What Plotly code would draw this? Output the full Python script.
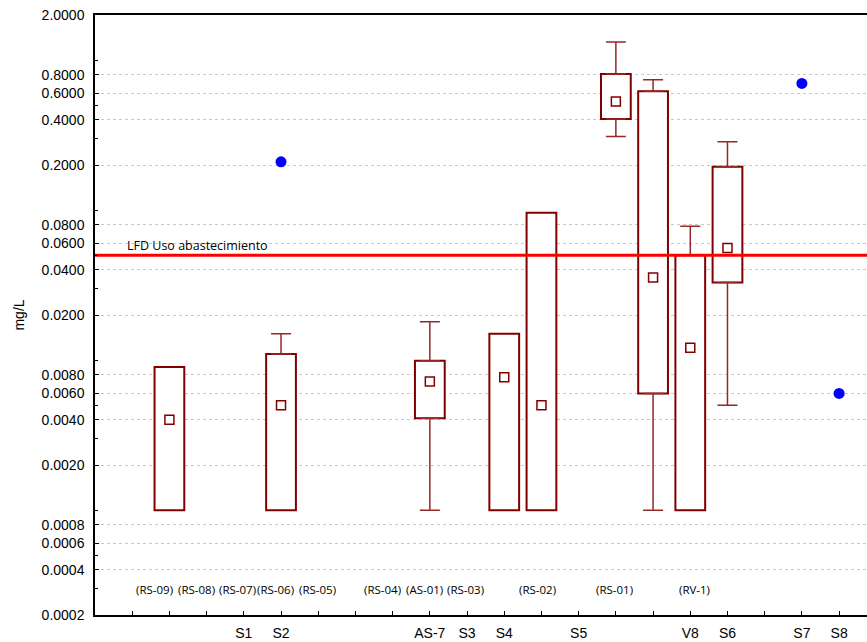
import plotly.graph_objects as go
import math

# ---- data ----
tick_positions = list(range(1, 21))
tick_names = {4: "S1", 5: "S2", 9: "AS-7", 10: "S3", 11: "S4", 13: "S5",
              16: "V8", 17: "S6", 19: "S7", 20: "S8"}

box_x = [2, 5, 9, 11, 12, 14, 15, 16, 17]
box_q1 = [0.001, 0.001, 0.0041, 0.001, 0.001, 0.405, 0.006, 0.001, 0.033]
box_q3 = [0.009, 0.011, 0.0099, 0.015, 0.096, 0.81, 0.62, 0.050, 0.195]
box_mean = [0.0040, 0.0050, 0.0072, 0.0077, 0.0050, 0.53, 0.0355, 0.0121, 0.056]
box_low = [None, None, 0.001, None, None, 0.31, 0.001, None, 0.005]
box_high = [None, 0.015, 0.018, None, None, 1.32, 0.74, 0.078, 0.286]

point_x = [5, 19, 20]
point_y = [0.21, 0.70, 0.006]

limit_value = 0.05
limit_label = "LFD Uso abastecimiento"

station_labels = ["(RS-09)", "(RS-08)", "(RS-07)", "(RS-06)", "(RS-05)",
                  "(RS-04)", "(AS-01)", "(RS-03)", "(RS-02)", "(RS-01)", "(RV-1)"]
station_label_x = [1.59, 2.72, 3.82, 4.84, 5.97, 7.73, 8.86, 9.96, 11.9, 13.97, 16.1]

y_ticks = [2.0, 0.8, 0.6, 0.4, 0.2, 0.08, 0.06, 0.04, 0.02, 0.008, 0.006, 0.004,
           0.002, 0.0008, 0.0006, 0.0004, 0.0002]
y_minor = [1.0, 0.5, 0.3, 0.1, 0.05, 0.03, 0.01, 0.005, 0.003, 0.001, 0.0005, 0.0003]

X_MAX = 20.75
DARK = "#800000"
WHISK = "rgb(150,40,40)"

fig = go.Figure()

# boxes
fig.add_trace(go.Bar(
    x=box_x, base=box_q1, y=[h - l for l, h in zip(box_q1, box_q3)],
    width=0.8, marker=dict(color="white", line=dict(color=DARK, width=2)),
    hoverinfo="skip", showlegend=False))

# upper whiskers
ux = [x for x, h in zip(box_x, box_high) if h is not None]
uy = [q for q, h in zip(box_q3, box_high) if h is not None]
ue = [h - q for q, h in zip(box_q3, box_high) if h is not None]
fig.add_trace(go.Scatter(
    x=ux, y=uy, mode="markers", marker=dict(size=1, color="rgba(0,0,0,0)"),
    error_y=dict(type="data", symmetric=False, array=ue, arrayminus=[0] * len(ue),
                 color=WHISK, thickness=1.5, width=10),
    hoverinfo="skip", showlegend=False))

# lower whiskers
lx = [x for x, l in zip(box_x, box_low) if l is not None]
ly = [q for q, l in zip(box_q1, box_low) if l is not None]
le = [q - l for q, l in zip(box_q1, box_low) if l is not None]
fig.add_trace(go.Scatter(
    x=lx, y=ly, mode="markers", marker=dict(size=1, color="rgba(0,0,0,0)"),
    error_y=dict(type="data", symmetric=False, array=[0] * len(le), arrayminus=le,
                 color=WHISK, thickness=1.5, width=10),
    hoverinfo="skip", showlegend=False))

# means
fig.add_trace(go.Scatter(
    x=box_x, y=box_mean, mode="markers",
    marker=dict(symbol="square-open", size=9, color=DARK, line=dict(width=1.5)),
    hoverinfo="skip", showlegend=False))

# single points
fig.add_trace(go.Scatter(
    x=point_x, y=point_y, mode="markers",
    marker=dict(symbol="circle", size=11, color="rgb(0,0,255)"),
    hoverinfo="skip", showlegend=False))

# limit line
fig.add_trace(go.Scatter(
    x=[0, X_MAX], y=[limit_value, limit_value], mode="lines",
    line=dict(color="rgb(255,0,0)", width=3),
    hoverinfo="skip", showlegend=False))

annotations = [dict(
    x=0.8, y=math.log10(limit_value), xref="x", yref="y", text=limit_label,
    showarrow=False, xanchor="left", yanchor="bottom", yshift=-1,
    font=dict(family="Open Sans", size=12.5, color="black"))]
for lab, lx_ in zip(station_labels, station_label_x):
    annotations.append(dict(
        x=lx_, y=math.log10(0.000294), xref="x", yref="y", text=lab,
        showarrow=False, xanchor="center", yanchor="middle",
        font=dict(family="Open Sans", size=11.5, color="black")))

fig.update_layout(
    width=867, height=642,
    margin=dict(l=95, r=0, t=15, b=27),
    paper_bgcolor="white", plot_bgcolor="white",
    font=dict(family="Liberation Sans, Arial", size=14, color="black"),
    annotations=annotations,
    barmode="overlay",
    xaxis=dict(
        range=[0, X_MAX], tickmode="array", tickvals=tick_positions,
        ticktext=[tick_names.get(t, "") for t in tick_positions],
        ticks="inside", ticklen=4, tickcolor="black",
        showline=True, linecolor="black", linewidth=1.5, mirror=True,
        showgrid=False, zeroline=False, ticklabelstandoff=4,
        tickfont=dict(size=14)),
    yaxis=dict(
        type="log", range=[math.log10(0.0002), math.log10(2.0)],
        tickmode="array", tickvals=y_ticks, ticktext=[f"{v:.4f}" for v in y_ticks],
        ticks="inside", ticklen=4, tickcolor="black",
        showline=True, linecolor="black", linewidth=1.5, mirror=False,
        showgrid=True, gridcolor="rgb(200,200,200)", griddash="dot", gridwidth=1,
        zeroline=False, ticklabelstandoff=6, tickfont=dict(size=14),
        minor=dict(tickmode="array", tickvals=y_minor, ticks="inside", ticklen=3,
                   tickcolor="black", showgrid=False),
        title=dict(text="mg/L", font=dict(family="Liberation Sans", size=14), standoff=14)),
)

fig.write_html("out.html")
